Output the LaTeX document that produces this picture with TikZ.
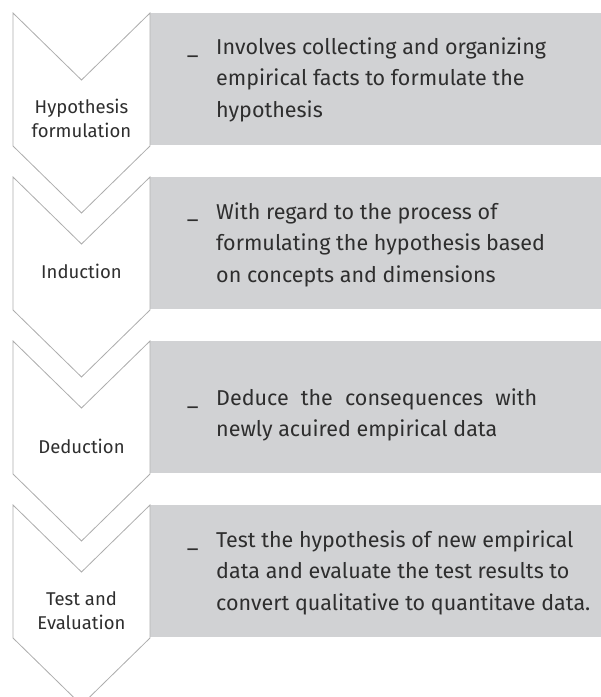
\documentclass[tikz,border=0pt]{standalone}
\usepackage{fontspec}
\setmainfont{Fira Sans}
\definecolor{boxgray}{HTML}{D1D2D4}
\definecolor{edgegray}{HTML}{ADADAD}
\definecolor{inkgray}{HTML}{2E2E2E}

\begin{document}
\begin{tikzpicture}[x=1pt,y=-1pt]
\tikzstyle{every node}=[inner sep=0pt, text=inkgray]
\tikzstyle{txt}=[anchor=base west, align=left, font=\fontsize{21.5}{31.5}\selectfont]
\tikzstyle{bar}=[anchor=base west, font=\fontsize{21.5}{31.5}\selectfont]
\tikzstyle{lbl}=[anchor=base, align=center, font=\fontsize{18.5}{23.5}\selectfont]
\tikzstyle{chev}=[draw=edgegray, fill=white, line width=0.8pt, line join=miter]
\clip (0,0) rectangle (601,697);
\fill[boxgray] (150,13) rectangle (601,145);
\fill[boxgray] (150,177) rectangle (601,309);
\fill[boxgray] (150,341) rectangle (601,473);
\fill[boxgray] (150,505) rectangle (601,637);
\draw[chev] (13,13) -- (81.5,80) -- (150,13) -- (150,146) -- (81.5,213) -- (13,146) -- cycle;
\draw[chev] (13,177) -- (81.5,244) -- (150,177) -- (150,310) -- (81.5,377) -- (13,310) -- cycle;
\draw[chev] (13,341) -- (81.5,408) -- (150,341) -- (150,474) -- (81.5,541) -- (13,474) -- cycle;
\draw[chev] (13,505) -- (81.5,572) -- (150,505) -- (150,638) -- (81.5,705) -- (13,638) -- cycle;
\draw (81.5,137) node (c1) [lbl] {Hypothesis\\formulation};
\draw (81.5,278) node (c2) [lbl] {Induction};
\draw (81.5,453) node (c3) [lbl] {Deduction};
\draw (81.5,629) node (c4) [lbl] {Test and\\Evaluation};
\draw (187,54) node (u1) [bar] {\_};
\draw (216,117) node (t1) [txt] {Involves collecting and organizing\\empirical facts to formulate the\\hypothesis};
\draw (187,218) node (u2) [bar] {\_};
\draw (216,282) node (t2) [txt] {With regard to the process of\\formulating the hypothesis based\\on concepts and dimensions};
\draw (187,405) node (u3) [bar] {\_};
\draw (216,436.5) node (t3) [txt] {\makebox[321pt][s]{Deduce the consequences with}\\newly acuired empirical data};
\draw (187,547) node (u4) [bar] {\_};
\draw (216,610) node (t4) [txt] {Test the hypothesis of new empirical\\data and evaluate the test results to\\convert qualitative to quantitave data.};
\end{tikzpicture}
\end{document}
